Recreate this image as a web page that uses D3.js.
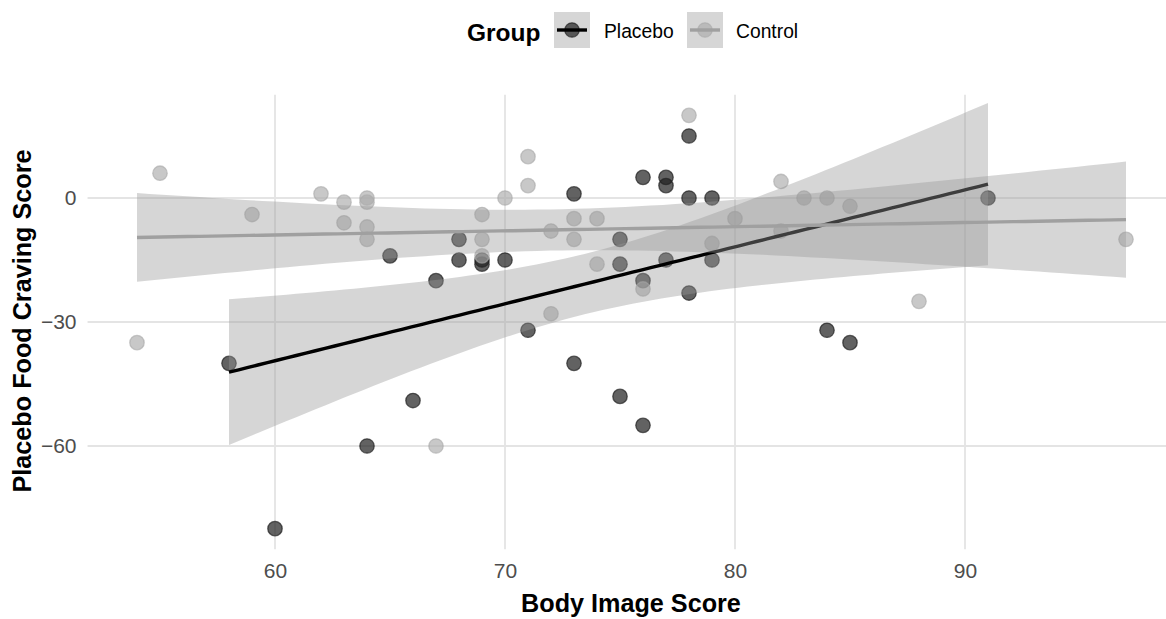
<!DOCTYPE html>
<html>
<head>
<meta charset="utf-8">
<script src="https://cdn.jsdelivr.net/npm/d3@7"></script>
<style>
  html, body { margin: 0; padding: 0; background: #fff; }
  svg { display: block; font-family: "Liberation Sans", Arial, sans-serif; }
</style>
</head>
<body>
<svg id="chart" width="1166" height="619"></svg>
<script>
// ---- data ----
const groups = ["Placebo", "Control"];
const placeboX = [58, 60, 64, 65, 66, 67, 68, 68, 69, 69, 70, 71, 73, 73, 75, 75, 75, 76, 76, 76, 77, 77, 77, 78, 78, 78, 79, 79, 84, 85, 91];
const placeboY = [-40, -80, -60, -14, -49, -20, -10, -15, -15, -16, -15, -32, 1, -40, -10, -16, -48, 5, -20, -55, 5, 3, -15, 15, 0, -23, 0, -15, -32, -35, 0];
const controlX = [54, 55, 59, 62, 63, 63, 64, 64, 64, 64, 67, 69, 69, 69, 70, 71, 71, 72, 72, 73, 73, 74, 74, 76, 78, 79, 80, 82, 82, 83, 84, 85, 88, 97];
const controlY = [-35, 6, -4, 1, -1, -6, 0, -1, -7, -10, -60, -4, -10, -14, 0, 10, 3, -8, -28, -5, -10, -5, -16, -22, 20, -11, -5, 4, -8, 0, 0, -2, -25, -10];
const xTicks = [60, 70, 80, 90];
const yTicks = [0, -30, -60];
const tCrit = { Placebo: 2.045, Control: 2.037 }; // 95% t quantiles, df = n-2

const series = [
  { name: "Placebo", xs: placeboX, ys: placeboY, pt: "#1f1f1f", ptAlpha: 0.7, line: "#000000" },
  { name: "Control", xs: controlX, ys: controlY, pt: "#aaaaaa", ptAlpha: 0.65, line: "#a0a0a0" }
];

const svg = d3.select("#chart");
const W = 1166, H = 619;

const allX = placeboX.concat(controlX), allY = placeboY.concat(controlY);
const xr = d3.extent(allX), yr = d3.extent(allY);
const xpad = (xr[1] - xr[0]) * 0.05, ypad = (yr[1] - yr[0]) * 0.05;
const ppuX = 23.0, ppuY = 4.1333;
const x = d3.scaleLinear().domain([xr[0] - xpad, xr[1] + xpad])
  .range([275 - (60 - (xr[0] - xpad)) * ppuX, 275 + (xr[1] + xpad - 60) * ppuX]);
const y = d3.scaleLinear().domain([yr[0] - ypad, yr[1] + ypad])
  .range([198 + (0 - (yr[0] - ypad)) * ppuY, 198 - (yr[1] + ypad) * ppuY]);

const [px0, px1] = x.range();
const [py0, py1] = y.range();

// grid
const grid = svg.append("g");
grid.selectAll("line.v").data(xTicks).enter().append("line")
  .attr("x1", d => x(d)).attr("x2", d => x(d)).attr("y1", py1).attr("y2", py0)
  .attr("stroke", "#e4e4e4").attr("stroke-width", 1.8);
grid.selectAll("line.h").data(yTicks).enter().append("line")
  .attr("y1", d => y(d)).attr("y2", d => y(d)).attr("x1", px0).attr("x2", px1)
  .attr("stroke", "#e4e4e4").attr("stroke-width", 1.8);

// axes (tick labels)
const xAxis = svg.append("g").attr("transform", `translate(0,${py0})`)
  .call(d3.axisBottom(x).tickValues(xTicks).tickSize(0).tickPadding(14));
xAxis.select(".domain").remove();
xAxis.selectAll("text").attr("fill", "#4d4d4d").style("font-size", "21px")
  .style("font-family", "'Liberation Sans', Arial, sans-serif");

const yAxis = svg.append("g").attr("transform", `translate(${px0},0)`)
  .call(d3.axisLeft(y).tickValues(yTicks).tickSize(0).tickPadding(11));
yAxis.select(".domain").remove();
yAxis.selectAll("text").attr("fill", "#4d4d4d").style("font-size", "21px")
  .style("font-family", "'Liberation Sans', Arial, sans-serif");

// points (ggplot draws them first)
const pts = svg.append("g");
series.forEach(s => {
  pts.selectAll(null).data(s.xs.map((v, i) => [v, s.ys[i]])).enter().append("circle")
    .attr("cx", d => x(d[0])).attr("cy", d => y(d[1])).attr("r", 7.2)
    .attr("fill", s.pt).attr("fill-opacity", s.ptAlpha)
    .attr("stroke", s.pt).attr("stroke-opacity", s.ptAlpha).attr("stroke-width", 1.3);
});

// linear fit with 95% confidence band
function fit(xs, ys, t) {
  const n = xs.length;
  const mx = d3.mean(xs), my = d3.mean(ys);
  let sxx = 0, sxy = 0;
  xs.forEach((v, i) => { sxx += (v - mx) * (v - mx); sxy += (v - mx) * (ys[i] - my); });
  const b = sxy / sxx, a = my - b * mx;
  let sse = 0;
  xs.forEach((v, i) => { const r = ys[i] - (a + b * v); sse += r * r; });
  const s2 = sse / (n - 2);
  const lo = d3.min(xs), hi = d3.max(xs);
  const grid = d3.range(80).map(k => lo + (hi - lo) * k / 79);
  return grid.map(g => {
    const f = a + b * g;
    const se = Math.sqrt(s2 * (1 / n + (g - mx) * (g - mx) / sxx));
    return { x: g, f, lo: f - t * se, hi: f + t * se };
  });
}

const area = d3.area().x(d => x(d.x)).y0(d => y(d.lo)).y1(d => y(d.hi));
const line = d3.line().x(d => x(d.x)).y(d => y(d.f));
const smooth = svg.append("g");
series.forEach(s => {
  const f = fit(s.xs, s.ys, tCrit[s.name]);
  smooth.append("path").attr("d", area(f)).attr("fill", "#999999").attr("fill-opacity", 0.4);
  smooth.append("path").attr("d", line(f)).attr("fill", "none")
    .attr("stroke", s.line).attr("stroke-width", 3.4);
});

// axis titles
svg.append("text").attr("x", 631).attr("y", 612)
  .attr("text-anchor", "middle").attr("font-weight", "bold").attr("font-size", 25.2)
  .attr("fill", "#000").text("Body Image Score");
svg.append("text").attr("transform", `translate(31,${(py0 + py1) / 2 - 1}) rotate(-90)`)
  .attr("text-anchor", "middle").attr("font-weight", "bold").attr("font-size", 25.2)
  .attr("fill", "#000").text("Placebo Food Craving Score");

// legend
const leg = svg.append("g");
leg.append("text").attr("x", 467).attr("y", 41).attr("font-weight", "bold")
  .attr("font-size", 24.5).attr("fill", "#000").text("Group");
const keyX = [554, 687], labX = [604, 736];
series.forEach((s, i) => {
  const g = leg.append("g");
  g.append("rect").attr("x", keyX[i]).attr("y", 12).attr("width", 36).attr("height", 36)
    .attr("fill", "#999999").attr("fill-opacity", 0.4);
  g.append("circle").attr("cx", keyX[i] + 18).attr("cy", 30).attr("r", 7.2)
    .attr("fill", s.pt).attr("fill-opacity", s.ptAlpha)
    .attr("stroke", s.pt).attr("stroke-opacity", s.ptAlpha).attr("stroke-width", 1.3);
  g.append("line").attr("x1", keyX[i] + 3).attr("x2", keyX[i] + 33).attr("y1", 30).attr("y2", 30)
    .attr("stroke", s.line).attr("stroke-width", 3.4);
  g.append("text").attr("x", labX[i]).attr("y", 38).attr("font-size", 19.3)
    .attr("fill", "#000").text(s.name);
});
</script>
</body>
</html>
